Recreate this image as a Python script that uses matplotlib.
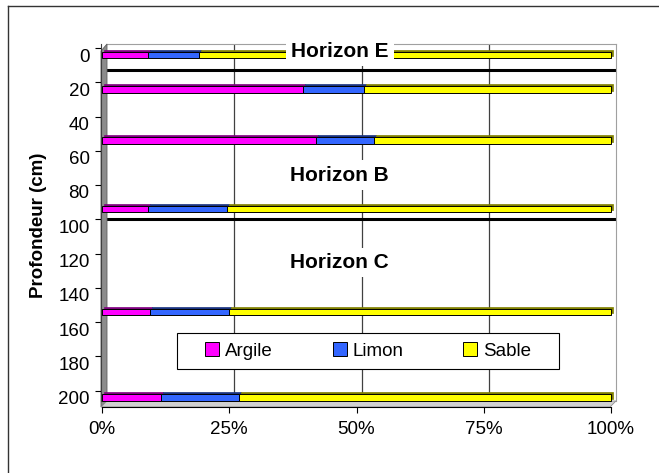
import matplotlib
matplotlib.use("Agg")
import matplotlib.pyplot as plt
import matplotlib.transforms as mtransforms
from matplotlib.patches import Polygon, Rectangle
from matplotlib.lines import Line2D

plt.rcParams["font.family"] = ["Liberation Sans", "DejaVu Sans"]

# data
depth = [0, 20, 50, 90, 150, 200]
argile = [9, 39.5, 42, 9, 9.5, 11.5]
limon = [10, 12, 11.5, 15.5, 15.5, 15.5]
sable = [81, 48.5, 46.5, 75.5, 75, 73]
series_names = ["Argile", "Limon", "Sable"]
horizon_names = ["Horizon E", "Horizon B", "Horizon C"]
horizon_text_depth = [1.3, 73.4, 124.4]
horizon_limits = [13, 100]
y_ticks = list(range(0, 201, 20))
x_ticks = [0, 25, 50, 75, 100]

colors = ["#FF00FF", "#3366FF", "#FFFF00"]
dark_colors = ["#800080", "#1A3380", "#808000"]

W, H = 659, 473
S = 1.7125  # pixels per cm


def rect(x0, y0, x1, y1):
    return [x0 / W, 1 - y1 / H, (x1 - x0) / W, (y1 - y0) / H]


def fpt(x, y):
    return (x / W, 1 - y / H)


fig = plt.figure(figsize=(W / 100, H / 100), dpi=100)

# outer chart border (only left and top visible)
fig.add_artist(Line2D([8 / W, 8 / W], [0, 1 - 6 / H], transform=fig.transFigure,
                      color="#333333", lw=1))
fig.add_artist(Line2D([8 / W, 1], [1 - 6 / H, 1 - 6 / H], transform=fig.transFigure,
                      color="#333333", lw=1))

# back wall
axb = fig.add_axes(rect(107, 44, 616, 401), zorder=0)
axb.set_xlim(0, 100)
axb.set_ylim((401 - 48) / S, (44 - 48) / S)
axb.set_xticks([])
axb.set_yticks([])
for side in ["left", "bottom"]:
    axb.spines[side].set_visible(False)
for side in ["top", "right"]:
    axb.spines[side].set_color("#A0A0A0")
for x in x_ticks[1:-1]:
    axb.axvline(x, color="#404040", lw=0.9)
for y in horizon_limits:
    axb.axhline(y, color="black", lw=2.2)

# side wall and floor
fig.add_artist(Polygon([fpt(101, 51), fpt(107, 44), fpt(107, 401), fpt(101, 407)],
                       closed=True, transform=fig.transFigure, facecolor="#8C8C8C",
                       edgecolor="#606060", lw=0.6, zorder=0.5))
fig.add_artist(Polygon([fpt(101, 407), fpt(107, 401), fpt(616, 401), fpt(610, 407)],
                       closed=True, transform=fig.transFigure, facecolor="#D0D0D0",
                       edgecolor="#909090", lw=0.6, zorder=0.5))

# y tick marks sit on the back plane
axt = fig.add_axes(rect(101, 44, 107, 401), zorder=1)
axt.patch.set_visible(False)
axt.set_ylim((401 - 48) / S, (44 - 48) / S)
axt.set_xticks([])
axt.set_yticks(y_ticks)
axt.set_yticklabels([])
axt.tick_params(axis="y", direction="out", length=4.3, width=0.8, color="black")
for side in ["top", "right", "bottom"]:
    axt.spines[side].set_visible(False)
axt.spines["left"].set_color("#404040")

# front plane: bars, labels
axf = fig.add_axes(rect(102, 44, 611, 407), zorder=2)
axf.patch.set_visible(False)
axf.set_xlim(0, 100)
axf.set_ylim((407 - 55) / S, (44 - 55) / S)
for side in ["top", "right", "left"]:
    axf.spines[side].set_visible(False)
axf.spines["bottom"].set_color("black")
axf.set_yticks(y_ticks)
axf.set_yticklabels([str(v) for v in y_ticks], fontsize=13.5)
axf.tick_params(axis="y", length=0, pad=9)
axf.set_xticks(x_ticks)
axf.set_xticklabels([f"{v}%" for v in x_ticks], fontsize=13.5)
axf.tick_params(axis="x", direction="out", length=4.3, width=0.8, pad=6)

bar_h = 3.9
shift = mtransforms.ScaledTranslation(2 / 100, 2 / 100, fig.dpi_scale_trans)
values = [argile, limon, sable]
handles = []
left = [0] * len(depth)
for vals, c, dc, name in zip(values, colors, dark_colors, series_names):
    back = axf.barh(depth, vals, left=left, height=bar_h, color=dc,
                    edgecolor=dc, lw=0.5, zorder=2, clip_on=False)
    for p in back:
        p.set_transform(axf.transData + shift)
    front = axf.barh(depth, vals, left=left, height=bar_h, color=c,
                     edgecolor="black", lw=0.7, zorder=3, label=name, clip_on=False)
    handles.append(front)
    left = [a + b for a, b in zip(left, vals)]

for name, yv in zip(horizon_names, horizon_text_depth):
    axf.text(46.7, yv, name, ha="center", va="baseline", fontsize=15,
             fontweight="bold", zorder=6,
             bbox=dict(boxstyle="square,pad=0.25", facecolor="white", edgecolor="none"))

fig.text(38.5 / W, 1 - 225 / H, "Profondeur (cm)", rotation=90, ha="center",
         va="center", fontsize=13.5, fontweight="bold")

# legend
fig.add_artist(Rectangle(fpt(177, 369), (559 - 177) / W, (369 - 333) / H,
                         transform=fig.transFigure, facecolor="white",
                         edgecolor="black", lw=0.8, zorder=4))
fig.legend(handles=handles, labels=series_names, loc="center",
           bbox_to_anchor=(368 / W, 1 - 351 / H), ncol=3, frameon=False,
           fontsize=13.5, handlelength=0.75, handleheight=0.7,
           handletextpad=0.3, columnspacing=3.2)

fig.savefig("out.png", dpi=100)
